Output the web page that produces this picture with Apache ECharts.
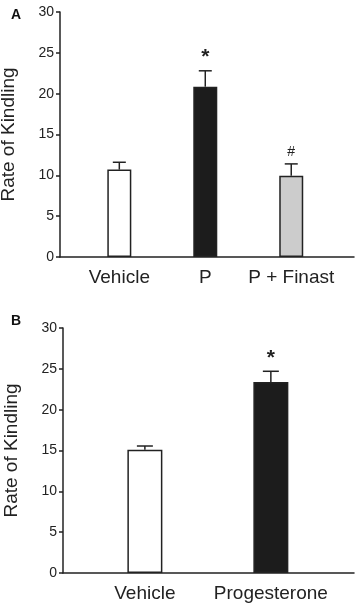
<!DOCTYPE html>
<html>
<head>
<meta charset="utf-8">
<script src="https://cdn.jsdelivr.net/npm/echarts@6/dist/echarts.min.js"></script>
<style>
  html, body { margin: 0; padding: 0; background: #fff; }
  #chart { width: 355px; height: 605px; }
</style>
</head>
<body>
<div id="chart"></div>
<script>
// 数据
const catsA = ['Vehicle', 'P', 'P + Finast'];
const meanA = [10.7, 20.85, 9.95];
const semA = [0.9, 1.95, 1.45];
const signA = ['', '*', '#'];

const catsB = ['Vehicle', 'Progesterone'];
const meanB = [15.1, 23.4];
const semB = [0.45, 1.3];
const signB = ['', '*'];

const yTicks = [0, 5, 10, 15, 20, 25, 30];

// 颜色
const fillA = ['#ffffff', '#1c1c1c', '#cccccc'];
const fillB = ['#ffffff', '#1c1c1c'];

const FONT = 'Liberation Sans, Arial, sans-serif';
const INK = '#222';

function barData(means, fills) {
    return means.map(function (v, i) {
        return { value: [i, v], itemStyle: { color: fills[i] } };
    });
}

function errData(means, sems) {
    return means.map(function (v, i) {
        return [i, v, v + sems[i]];
    });
}

// 误差线 + 显著性标记
function errorItem(signs, capHalf) {
    return function (params, api) {
        let i = api.value(0);
        let base = api.coord([i, api.value(1)]);
        let top = api.coord([i, api.value(2)]);
        let children = [
            { type: 'line', shape: { x1: base[0], y1: base[1], x2: top[0], y2: top[1] },
              style: { stroke: INK, lineWidth: 1.5 } },
            { type: 'line', shape: { x1: top[0] - capHalf, y1: top[1], x2: top[0] + capHalf, y2: top[1] },
              style: { stroke: INK, lineWidth: 1.5 } }
        ];
        let s = signs[i];
        if (s) {
            let star = s === '*';
            children.push({
                type: 'text',
                style: {
                    text: s, x: top[0], y: star ? top[1] - 3 : top[1] - 5,
                    align: 'center', verticalAlign: 'bottom',
                    font: (star ? 'bold 21px ' : '14px ') + FONT, fill: INK
                }
            });
        }
        return { type: 'group', children: children };
    };
}

function xAxisFor(gridIndex, cats, min, max) {
    return {
        gridIndex: gridIndex, type: 'value', min: min, max: max,
        axisLine: { show: true, onZero: false, lineStyle: { color: INK, width: 1.5 } },
        axisTick: { show: false },
        splitLine: { show: false },
        axisLabel: {
            customValues: cats.map(function (c, i) { return i; }),
            formatter: function (v) { return cats[Math.round(v)]; },
            fontFamily: FONT, fontSize: 19, color: INK, margin: 11
        }
    };
}

function yAxisFor(gridIndex) {
    return {
        gridIndex: gridIndex, type: 'value', min: yTicks[0], max: yTicks[yTicks.length - 1], interval: 5,
        name: 'Rate of Kindling', nameLocation: 'middle', nameGap: 42,
        nameTextStyle: { fontFamily: FONT, fontSize: 19, color: INK },
        axisLine: { show: true, onZero: false, lineStyle: { color: INK, width: 1.5 } },
        axisTick: { show: true, length: 4, lineStyle: { color: INK, width: 1.5 } },
        splitLine: { show: false },
        axisLabel: { fontFamily: FONT, fontSize: 14, color: INK, margin: 6 }
    };
}

const chart = echarts.init(document.getElementById('chart'), null, { renderer: 'canvas' });

chart.setOption({
    animation: false,
    backgroundColor: '#fff',
    title: [
        { text: 'A', left: 6, top: 3, textStyle: { fontFamily: FONT, fontSize: 14, fontWeight: 'bold', color: '#111' } },
        { text: 'B', left: 6, top: 309, textStyle: { fontFamily: FONT, fontSize: 14, fontWeight: 'bold', color: '#111' } }
    ],
    grid: [
        { left: 60, right: 1, top: 12, height: 245, outerBoundsMode: 'none' },
        { left: 63, right: 1, top: 328, height: 245, outerBoundsMode: 'none' }
    ],
    xAxis: [
        xAxisFor(0, catsA, -0.69, 2.73),
        xAxisFor(1, catsB, -0.65, 1.66)
    ],
    yAxis: [yAxisFor(0), yAxisFor(1)],
    series: [
        {
            type: 'bar', xAxisIndex: 0, yAxisIndex: 0, barWidth: 24,
            itemStyle: { borderColor: INK, borderWidth: 1.5 },
            data: barData(meanA, fillA)
        },
        {
            type: 'custom', xAxisIndex: 0, yAxisIndex: 0,
            renderItem: errorItem(signA, 6.5),
            data: errData(meanA, semA), z: 3
        },
        {
            type: 'bar', xAxisIndex: 1, yAxisIndex: 1, barWidth: 35,
            itemStyle: { borderColor: INK, borderWidth: 1.5 },
            data: barData(meanB, fillB)
        },
        {
            type: 'custom', xAxisIndex: 1, yAxisIndex: 1,
            renderItem: errorItem(signB, 8),
            data: errData(meanB, semB), z: 3
        }
    ]
});
</script>
</body>
</html>
